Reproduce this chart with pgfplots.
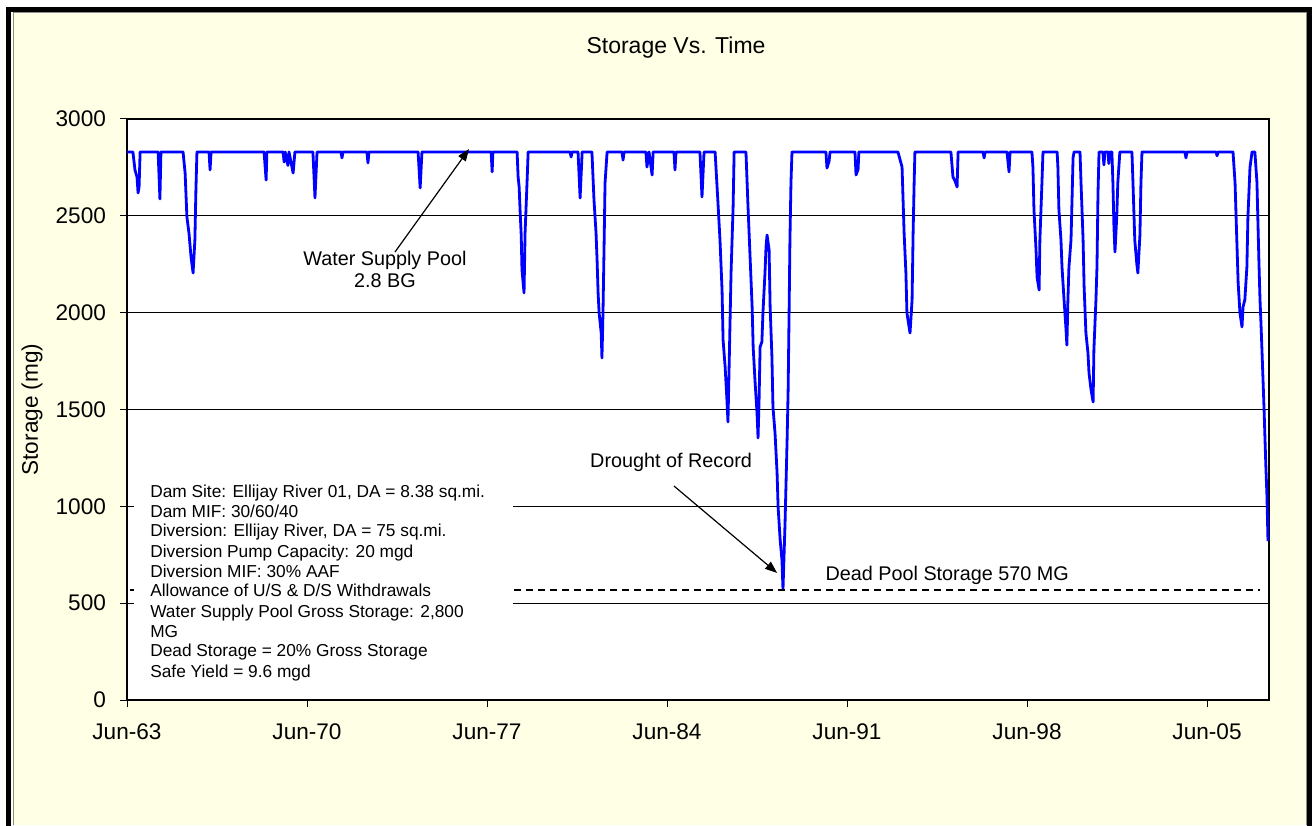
\documentclass[border=0pt]{standalone}
\usepackage{pgfplots}
\pgfplotsset{compat=1.18}
\usepackage{pgfplotstable}
\usepackage{fontspec}
\setmainfont{Liberation Sans}
\usetikzlibrary{arrows.meta}
\definecolor{bgyellow}{RGB}{255,255,230}
\definecolor{lineblue}{RGB}{0,0,255}

\pgfplotstableread{
year storage
1963.42 2830
1963.65 2830
1963.73 2737
1963.81 2700
1963.85 2618
1963.89 2650
1963.93 2830
1964.63 2830
1964.70 2587
1964.74 2830
1965.60 2830
1965.68 2721
1965.75 2494
1965.83 2411
1965.91 2288
1965.99 2205
1966.06 2375
1966.10 2634
1966.14 2830
1966.61 2830
1966.65 2737
1966.69 2830
1968.75 2830
1968.83 2685
1968.86 2830
1969.49 2830
1969.53 2778
1969.57 2830
1969.68 2760
1969.72 2830
1969.88 2721
1969.95 2830
1970.65 2830
1970.73 2592
1970.81 2830
1971.74 2830
1971.78 2799
1971.82 2830
1972.75 2830
1972.79 2773
1972.83 2830
1974.74 2830
1974.82 2644
1974.89 2830
1977.58 2830
1977.62 2727
1977.65 2830
1978.59 2830
1978.63 2700
1978.67 2649
1978.71 2515
1978.75 2400
1978.78 2220
1978.86 2102
1978.90 2411
1978.98 2685
1979.02 2830
1980.65 2830
1980.69 2804
1980.73 2830
1980.96 2830
1981.04 2592
1981.12 2830
1981.50 2830
1981.58 2582
1981.66 2411
1981.70 2272
1981.74 2102
1981.78 1998
1981.86 1895
1981.89 1766
1981.93 1998
1981.97 2324
1982.01 2670
1982.09 2830
1982.67 2830
1982.71 2788
1982.75 2830
1983.60 2830
1983.64 2752
1983.72 2830
1983.84 2711
1983.88 2830
1984.69 2830
1984.73 2737
1984.77 2830
1985.70 2830
1985.78 2597
1985.86 2830
1986.29 2830
1986.41 2546
1986.48 2375
1986.56 2117
1986.60 1859
1986.68 1720
1986.75 1549
1986.79 1436
1986.83 1689
1986.87 1947
1986.91 2205
1986.99 2546
1987.03 2830
1987.49 2830
1987.57 2546
1987.65 2288
1987.73 2030
1987.77 1823
1987.84 1652
1987.92 1482
1987.96 1353
1988.00 1549
1988.04 1823
1988.11 1850
1988.15 1998
1988.23 2205
1988.27 2339
1988.31 2401
1988.39 2324
1988.43 2030
1988.50 1771
1988.54 1513
1988.62 1379
1988.70 1172
1988.74 997
1988.82 826
1988.89 723
1988.93 570
1989.01 914
1989.09 1343
1989.13 1601
1989.17 2030
1989.20 2375
1989.24 2670
1989.28 2830
1990.60 2830
1990.64 2747
1990.72 2780
1990.76 2830
1991.73 2830
1991.77 2711
1991.85 2740
1991.88 2830
1993.40 2830
1993.56 2752
1993.60 2582
1993.64 2411
1993.71 2205
1993.75 1998
1993.87 1895
1993.95 2066
1993.99 2411
1994.03 2670
1994.06 2830
1995.46 2830
1995.54 2700
1995.62 2680
1995.70 2649
1995.74 2830
1996.71 2830
1996.75 2799
1996.79 2830
1997.64 2830
1997.72 2727
1997.76 2830
1998.61 2830
1998.65 2752
1998.69 2530
1998.77 2324
1998.81 2184
1998.89 2117
1998.92 2375
1999.00 2670
1999.04 2830
1999.59 2830
1999.62 2752
1999.66 2530
1999.74 2375
1999.78 2236
1999.86 2066
1999.93 1926
1999.97 1833
2000.01 2066
2000.05 2236
2000.13 2375
2000.17 2582
2000.21 2800
2000.25 2830
2000.48 2830
2000.52 2670
2000.60 2375
2000.64 2133
2000.71 1895
2000.79 1792
2000.83 1689
2000.91 1601
2000.99 1539
2001.02 1807
2001.10 2066
2001.14 2236
2001.18 2618
2001.22 2830
2001.37 2830
2001.41 2763
2001.45 2830
2001.57 2830
2001.60 2770
2001.64 2830
2001.72 2830
2001.76 2670
2001.80 2442
2001.84 2313
2001.91 2500
2001.95 2670
2002.03 2830
2002.50 2830
2002.54 2670
2002.61 2375
2002.69 2250
2002.73 2205
2002.81 2400
2002.85 2670
2002.89 2830
2004.56 2830
2004.60 2799
2004.64 2830
2005.77 2830
2005.81 2810
2005.85 2830
2006.43 2830
2006.51 2670
2006.55 2494
2006.59 2324
2006.63 2153
2006.70 1998
2006.78 1926
2006.82 2030
2006.89 2066
2006.97 2236
2007.01 2494
2007.09 2750
2007.17 2830
2007.28 2830
2007.36 2675
2007.44 2251
2007.48 2066
2007.52 1937
2007.56 1792
2007.60 1642
2007.64 1492
2007.67 1363
2007.71 1198
2007.75 1053
2007.79 821
}\storagedata

\begin{document}
\begin{tikzpicture}
\path[use as bounding box] (0,0) rectangle (656pt,412.5pt);
\fill[white] (0,0) rectangle (656pt,412.5pt);
\fill[bgyellow] (6pt,0) rectangle (653.5pt,406.5pt);
\draw[black!45, line width=0.5pt] (6.5pt,0) -- (6.5pt,406pt) -- (653pt,406pt) -- (653pt,0);
\draw[black, line width=2.5pt, line join=miter] (4.25pt,-5pt) -- (4.25pt,407.9pt) -- (654.75pt,407.9pt) -- (654.75pt,-5pt);
\node[font=\fontsize{11.5}{13}\selectfont] at (338pt,388.5pt) {Storage Vs. Time};
\begin{axis}[
  at={(63.5pt,62.5pt)}, anchor=south west,
  scale only axis, width=571pt, height=290.5pt,
  xmin=1963.42, xmax=2007.83, ymin=0, ymax=3000,
  xtick={1963.42,1970.42,1977.42,1984.42,1991.42,1998.42,2005.42},
  xticklabels={Jun-63,Jun-70,Jun-77,Jun-84,Jun-91,Jun-98,Jun-05},
  ytick={0,500,1000,1500,2000,2500,3000},
  ymajorgrids, grid style={black, line width=0.5pt},
  tick align=outside, major tick length=3.5pt, tick pos=left,
  axis line style={black, line width=0.6pt},
  axis background/.style={fill=white},
  tick style={black, line width=0.5pt},
  ticklabel style={font=\fontsize{11.3}{13}\selectfont},
  xticklabel style={yshift=-5pt},
  yticklabel style={xshift=-3.5pt},
  /pgf/number format/assume math mode=true,
  /pgf/number format/1000 sep={},
  scaled ticks=false,
  ylabel={Storage (mg)},
  ylabel style={font=\fontsize{11.3}{13}\selectfont, at={(axis description cs:-0.0832,0.5)}, anchor=center},
  clip=false,
]
\addplot[lineblue, line width=1.4pt, line join=round] table[x=year, y=storage] {\storagedata};
\addplot[black, line width=0.9pt, dash pattern=on 3.5pt off 2.5pt] coordinates {(1963.54,570) (2007.48,570)};
\fill[white] (axis cs:1963.69,62) rectangle (axis cs:1978.43,1157);
\node[anchor=north west, inner sep=0pt, align=left, font=\fontsize{8.65}{10}\selectfont] at (axis cs:1964.31,1115) {Dam Site: Ellijay River 01, DA = 8.38 sq.mi.\\Dam MIF: 30/60/40\\Diversion: Ellijay River, DA = 75 sq.mi.\\Diversion Pump Capacity: 20 mgd\\Diversion MIF: 30\% AAF\\Allowance of U/S \& D/S Withdrawals\\Water Supply Pool Gross Storage: 2,800\\MG\\Dead Storage = 20\% Gross Storage\\Safe Yield = 9.6 mgd};
\node[align=center, font=\fontsize{9.9}{11}\selectfont] at (axis cs:1973.45,2221) {Water Supply Pool\\2.8 BG};
\draw[black, line width=0.6pt, -{Triangle[length=6pt,width=4.5pt]}] (axis cs:1973.84,2313) -- (axis cs:1976.72,2845);
\node[font=\fontsize{9.9}{11}\selectfont] at (axis cs:1984.58,1229) {Drought of Record};
\draw[black, line width=0.6pt, -{Triangle[length=6pt,width=4.5pt]}] (axis cs:1984.69,1105) -- (axis cs:1988.70,656);
\node[anchor=west, inner sep=0pt, font=\fontsize{9.9}{11}\selectfont] at (axis cs:1990.57,645) {Dead Pool Storage 570 MG};
\end{axis}
\end{tikzpicture}
\end{document}
